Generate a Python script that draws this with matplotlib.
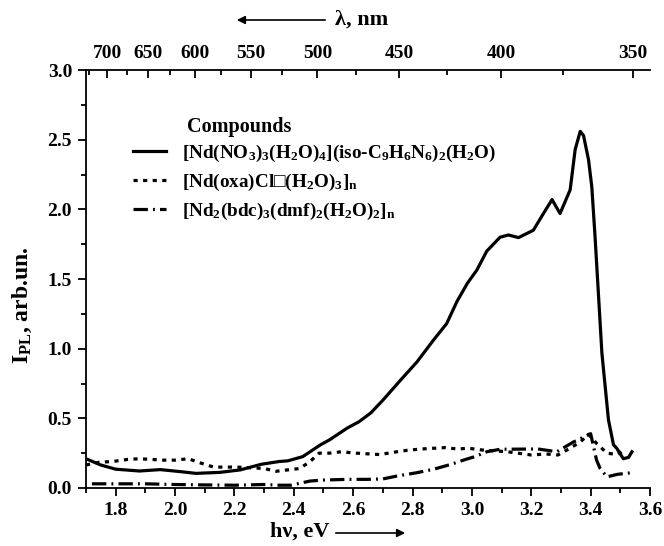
import matplotlib
matplotlib.use("Agg")
import matplotlib.pyplot as plt
from matplotlib.ticker import MultipleLocator, FormatStrFormatter
from matplotlib.lines import Line2D

plt.rcParams['font.family'] = ['Liberation Serif', 'DejaVu Serif']
plt.rcParams['font.weight'] = 'bold'
plt.rcParams['mathtext.fontset'] = 'custom'
plt.rcParams['mathtext.rm'] = 'Liberation Serif:bold'
plt.rcParams['mathtext.it'] = 'Liberation Serif:bold'
plt.rcParams['mathtext.bf'] = 'Liberation Serif:bold'

# ---- data (photon energy, eV ; intensity, arb. un.) ----
e_solid = [1.70, 1.75, 1.80, 1.88, 1.95, 2.02, 2.07, 2.15, 2.22, 2.29, 2.35, 2.38,
           2.43, 2.49, 2.52, 2.58, 2.62, 2.66, 2.70, 2.76, 2.815, 2.87, 2.915, 2.95,
           2.985, 3.017, 3.05, 3.095, 3.123, 3.157, 3.207, 3.241, 3.27, 3.297, 3.331,
           3.348, 3.365, 3.376, 3.393, 3.404, 3.415, 3.438, 3.46, 3.477, 3.488, 3.51,
           3.528, 3.539]
i_solid = [0.21, 0.165, 0.135, 0.122, 0.132, 0.117, 0.105, 0.112, 0.13, 0.17, 0.19, 0.195,
           0.225, 0.31, 0.345, 0.43, 0.476, 0.54, 0.63, 0.775, 0.905, 1.06, 1.18, 1.34,
           1.47, 1.565, 1.70, 1.80, 1.816, 1.797, 1.85, 1.97, 2.07, 1.97, 2.14,
           2.43, 2.56, 2.53, 2.355, 2.16, 1.80, 0.967, 0.49, 0.31, 0.285, 0.21,
           0.22, 0.26]

e_dot = [1.70, 1.745, 1.79, 1.84, 1.88, 1.92, 1.96, 2.00, 2.045, 2.085, 2.13, 2.21,
         2.30, 2.34, 2.38, 2.42, 2.455, 2.485, 2.52, 2.56, 2.61, 2.69, 2.735, 2.78,
         2.83, 2.91, 2.95, 2.99, 3.033, 3.12, 3.20, 3.25, 3.29, 3.33, 3.365, 3.393,
         3.42, 3.455, 3.49, 3.52]
i_dot = [0.165, 0.185, 0.19, 0.205, 0.21, 0.205, 0.20, 0.20, 0.21, 0.18, 0.15, 0.15,
         0.14, 0.12, 0.13, 0.14, 0.19, 0.25, 0.25, 0.26, 0.25, 0.24, 0.256, 0.27,
         0.28, 0.29, 0.28, 0.285, 0.273, 0.26, 0.237, 0.244, 0.237, 0.285, 0.33, 0.385,
         0.32, 0.25, 0.24, 0.28]

e_dd = [1.72, 1.80, 1.90, 2.00, 2.10, 2.20, 2.30, 2.35, 2.39, 2.455, 2.50, 2.58,
        2.647, 2.70, 2.748, 2.815, 2.87, 2.93, 2.98, 3.01, 3.05, 3.095, 3.223, 3.286,
        3.342, 3.40, 3.42, 3.432, 3.455, 3.49, 3.54]
i_dd = [0.03, 0.03, 0.03, 0.025, 0.022, 0.02, 0.025, 0.02, 0.02, 0.05, 0.057, 0.062,
        0.062, 0.065, 0.086, 0.11, 0.134, 0.17, 0.206, 0.225, 0.26, 0.278, 0.28, 0.26,
        0.33, 0.39, 0.2, 0.14, 0.08, 0.098, 0.11]

labels = [r"[Nd(NO$_3$)$_3$(H$_2$O)$_4$](iso-C$_9$H$_6$N$_6$)$_2$(H$_2$O)",
          "[Nd(oxa)Cl\u25a1(H$_2$O)$_3$]$_\\mathrm{n}$",
          r"[Nd$_2$(bdc)$_3$(dmf)$_2$(H$_2$O)$_2$]$_\mathrm{n}$"]

wl_ticks = [700, 650, 600, 550, 500, 450, 400, 350]
wl_minor = [725, 675, 625, 575, 525, 475, 425, 375]
HC = 1239.84

W, H = 664, 546
fig = plt.figure(figsize=(W / 100, H / 100), dpi=100)
ax = fig.add_axes([86 / W, 1 - 488 / H, 564 / W, 418 / H])

lw = 2.3
dot_ls = (0, (1.3, 1.7))
dd_ls = (0, (4.5, 1.6, 0.6, 1.6))
ax.plot(e_solid, i_solid, color='black', lw=lw, solid_joinstyle='round')
ax.plot(e_dot, i_dot, color='black', lw=lw, linestyle=dot_ls, dash_capstyle='butt')
ax.plot(e_dd, i_dd, color='black', lw=lw, linestyle=dd_ls, dash_capstyle='butt')

ax.set_xlim(1.7, 3.6)
ax.set_ylim(0, 3.0)
ax.xaxis.set_major_locator(MultipleLocator(0.2))
ax.xaxis.set_minor_locator(MultipleLocator(0.1))
ax.yaxis.set_major_locator(MultipleLocator(0.5))
ax.yaxis.set_minor_locator(MultipleLocator(0.25))
ax.xaxis.set_major_formatter(FormatStrFormatter('%.1f'))
ax.yaxis.set_major_formatter(FormatStrFormatter('%.1f'))
ax.spines['right'].set_visible(False)
ax.spines['top'].set_visible(False)
for s in ['left', 'bottom']:
    ax.spines[s].set_linewidth(1.3)
ax.tick_params(which='major', direction='out', length=6, width=1.3, labelsize=14, pad=4)
ax.tick_params(which='minor', direction='out', length=3.5, width=1.3)
ax.tick_params(right=False, top=False)
for t in ax.get_xticklabels() + ax.get_yticklabels():
    t.set_fontweight('bold')

# top wavelength axis
ax2 = ax.twiny()
ax2.set_xlim(ax.get_xlim())
ax2.set_xticks([HC / w for w in wl_ticks])
ax2.set_xticklabels([str(w) for w in wl_ticks], fontweight='bold')
ax2.set_xticks([HC / w for w in wl_minor], minor=True)
ax2.spines['top'].set_linewidth(1.3)
for s in ['right', 'bottom', 'left']:
    ax2.spines[s].set_visible(False)
ax2.tick_params(which='major', direction='in', length=6, width=1.3, labelsize=14, pad=6)
ax2.tick_params(which='minor', direction='in', length=3.5, width=1.3)

# legend
handles = [Line2D([], [], color='black', lw=lw),
           Line2D([], [], color='black', lw=lw, linestyle=dot_ls, dash_capstyle='butt'),
           Line2D([], [], color='black', lw=lw, linestyle=dd_ls, dash_capstyle='butt')]
leg = fig.legend(handles, labels, loc='upper left', bbox_to_anchor=(133 / W, 1 - 143 / H),
                 frameon=False, fontsize=13.8, handlelength=1.7, handletextpad=0.85,
                 labelspacing=0.4, borderpad=0, borderaxespad=0)
for t in leg.get_texts():
    t.set_fontweight('bold')
fig.text(187 / W, 1 - 127 / H, "Compounds", fontsize=14.5, fontweight='bold', va='center', ha='left')

# axis labels with arrows
fig.text(300 / W, 1 - 532 / H, "h\u03bd, eV", fontsize=16, fontweight='bold', ha='center', va='center')
ax.annotate("", xy=(408 / W, 1 - 533 / H), xytext=(333 / W, 1 - 533 / H), xycoords='figure fraction',
            textcoords='figure fraction',
            arrowprops=dict(arrowstyle='-|>', color='black', lw=1.2, mutation_scale=12))
fig.text(362 / W, 1 - 20 / H, "\u03bb, nm", fontsize=16, fontweight='bold', ha='center', va='center')
ax.annotate("", xy=(234 / W, 1 - 20 / H), xytext=(328 / W, 1 - 20 / H), xycoords='figure fraction',
            textcoords='figure fraction',
            arrowprops=dict(arrowstyle='-|>', color='black', lw=1.2, mutation_scale=12))
fig.text(22 / W, 1 - 305 / H, "I$_\\mathrm{PL}$, arb.un.", fontsize=17, fontweight='bold',
         rotation=90, ha='center', va='center')

fig.savefig("out.png", dpi=100)
